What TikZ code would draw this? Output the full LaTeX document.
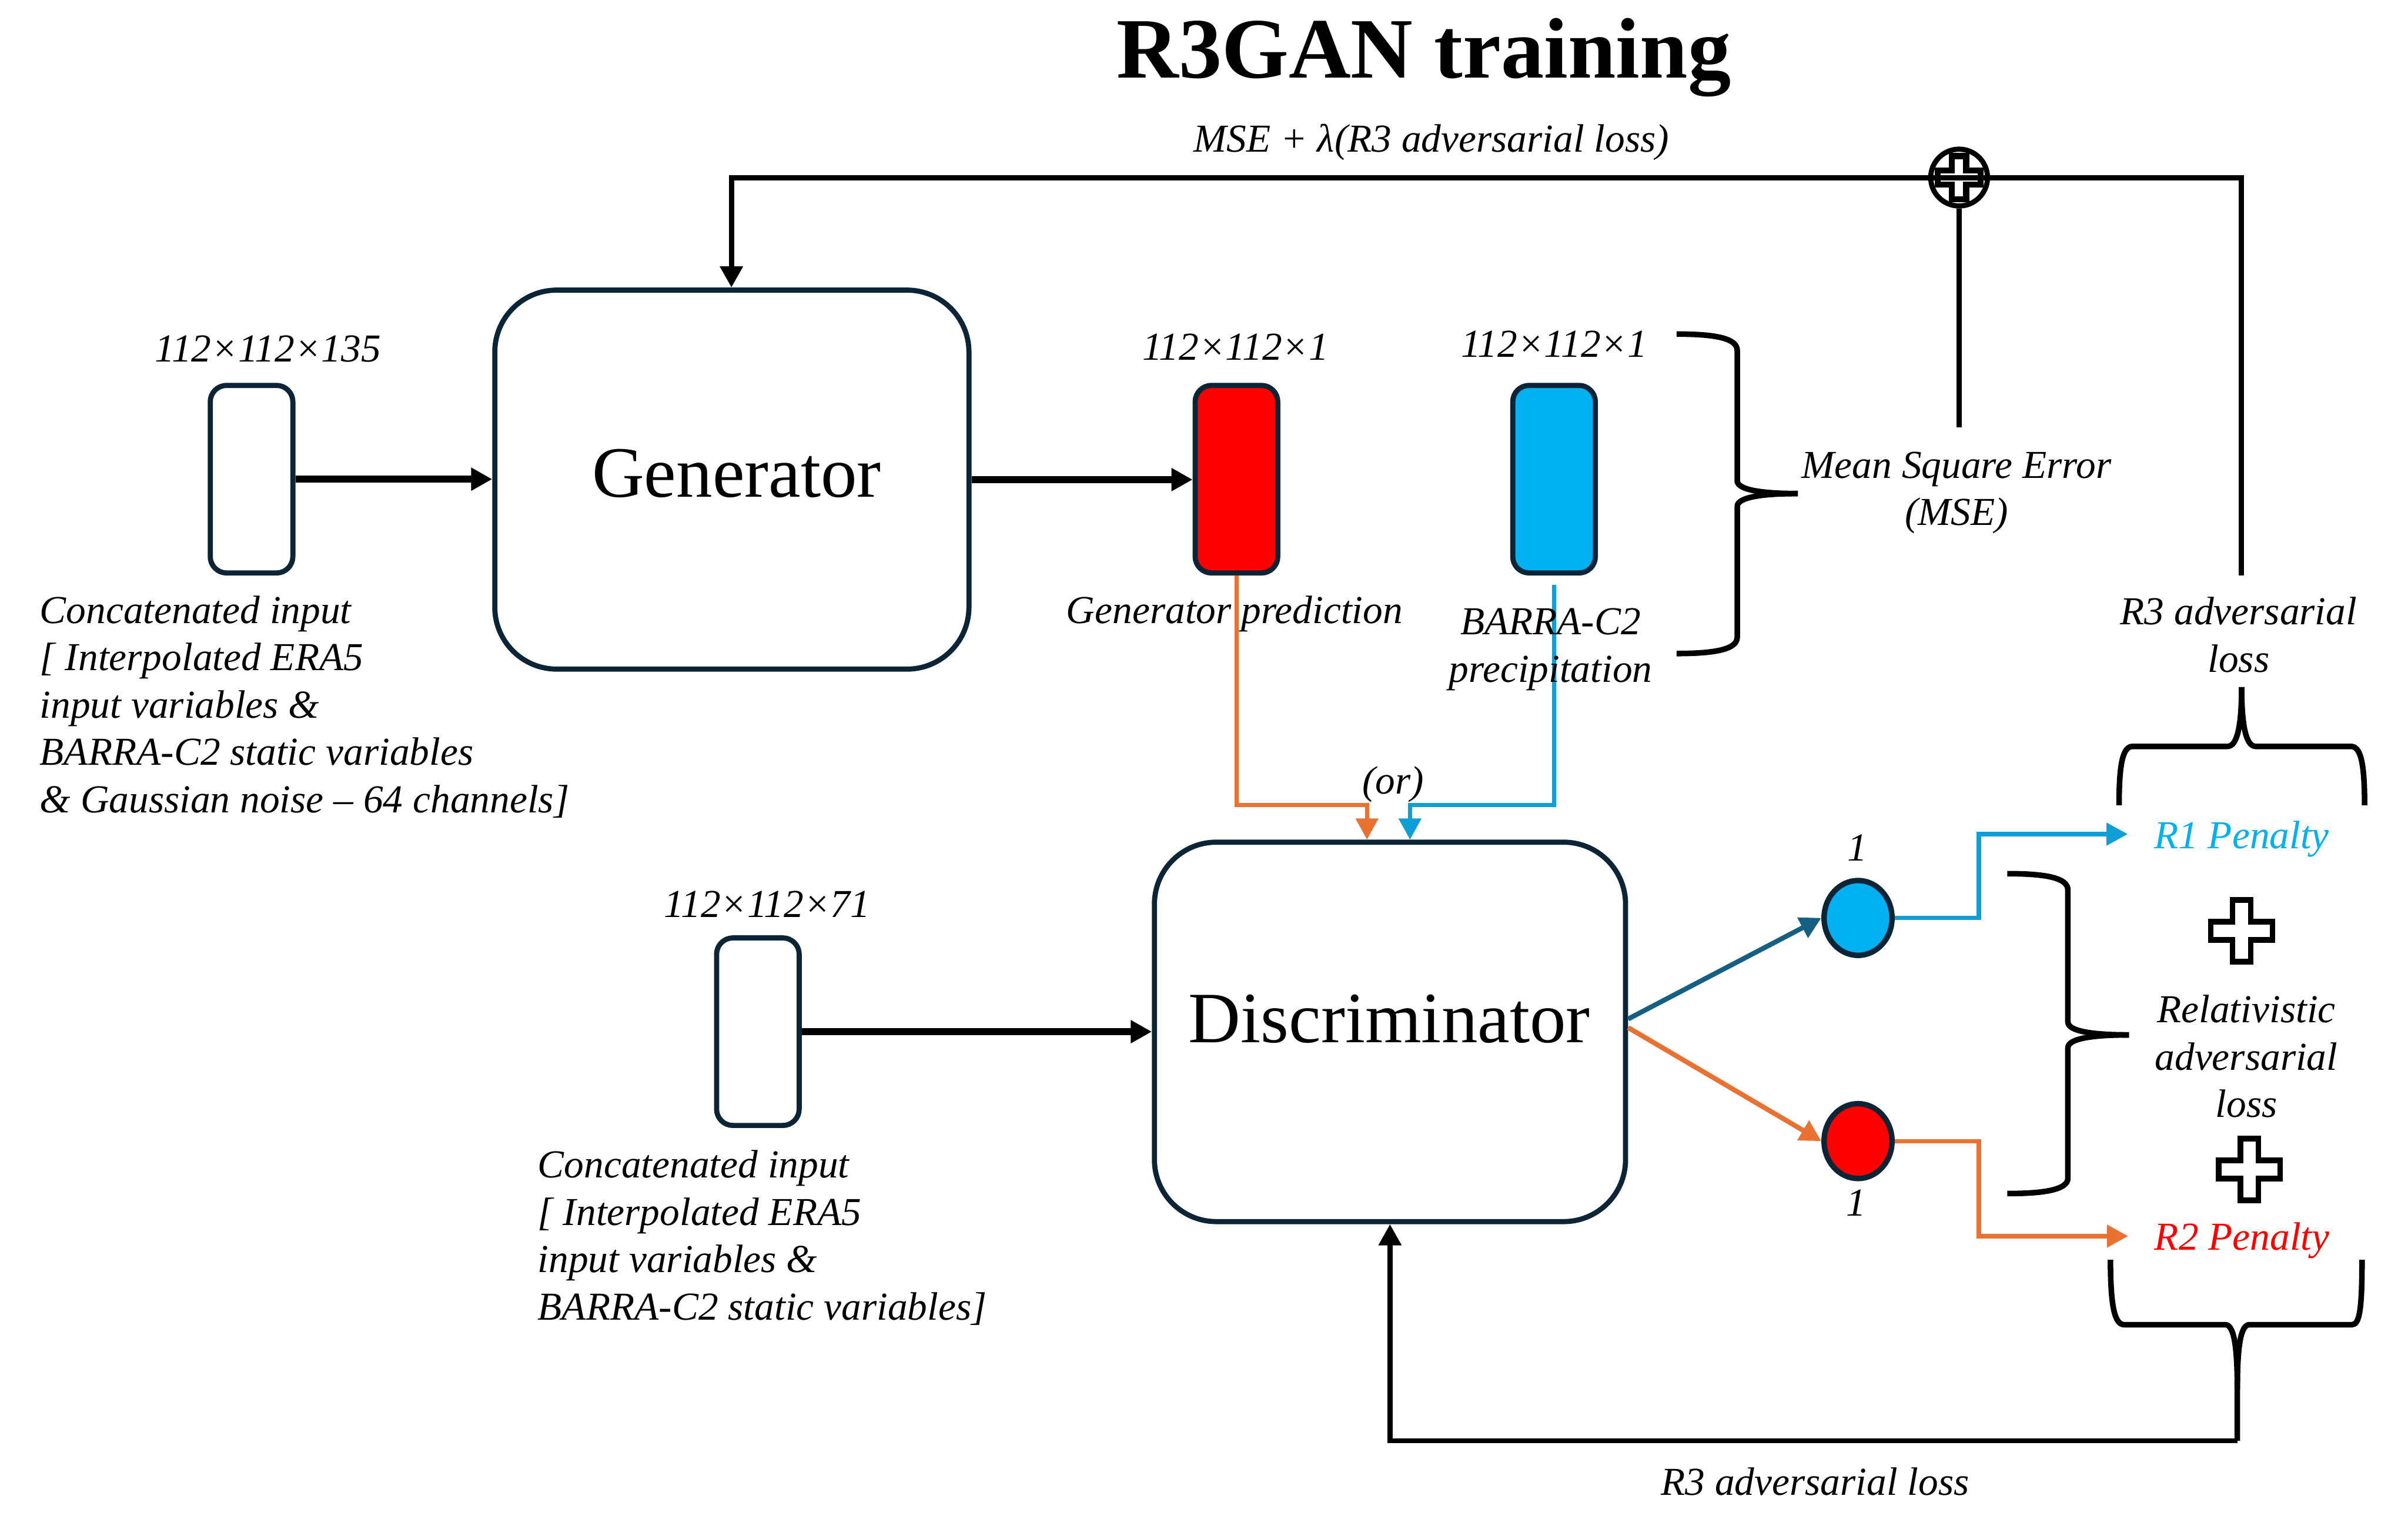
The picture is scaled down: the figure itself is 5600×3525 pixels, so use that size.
\documentclass[tikz,border=0pt]{standalone}
\usepackage{fontspec}
\setmainfont{Liberation Serif}
\usetikzlibrary{arrows.meta,shapes.geometric,calc}
\definecolor{navy}{HTML}{0B2536}
\definecolor{tealC}{HTML}{156082}
\definecolor{orangeC}{HTML}{E97132}
\definecolor{lineblue}{HTML}{0F9ED5}
\definecolor{cyanfill}{HTML}{00B0F0}
\definecolor{predred}{HTML}{FF0000}
\tikzset{
  pics/crossmark/.style n args={2}{code={
    \draw[pic actions] (-#2,-#1) -- (#2,-#1) -- (#2,-#2) -- (#1,-#2) -- (#1,#2) -- (#2,#2) -- (#2,#1) -- (-#2,#1) -- (-#2,#2) -- (-#1,#2) -- (-#1,-#2) -- (-#2,-#2) -- cycle;}}
}
\begin{document}
\begin{tikzpicture}[x=0.01cm,y=-0.01cm,
  txt/.style={font=\fontsize{26.2}{31.3}\selectfont\itshape, inner sep=0pt},
  bigbox/.style={draw=navy, line width=3.4pt, rounded corners=1.44cm, inner sep=0pt},
  inbox/.style={draw=navy, line width=3.4pt, rounded corners=0.38cm, minimum width=1.92cm, minimum height=4.36cm, inner sep=0pt},
  boxlabel/.style={font=\fontsize{47.8}{57}\selectfont, inner sep=0pt, anchor=base},
  bline/.style={line width=3.4pt, black},
  barrow/.style={bline, -{Triangle[length=14pt,width=14.5pt]}},
  darrow/.style={line width=4.6pt, black, -{Triangle[length=14pt,width=14.5pt]}},
  carrow/.style={line width=2.85pt, -{Triangle[length=14pt,width=14.5pt]}},
  brace/.style={line width=3.7pt, line join=round},
  dot/.style={ellipse, draw=navy, line width=3.6pt, minimum width=1.58cm, minimum height=1.74cm, inner sep=0pt}
]
\fill[white] (0,0) rectangle (5600,3525);
\useasboundingbox (0,0) rectangle (5600,3525);

% title
\node[font=\fontsize{56.9}{68}\selectfont\bfseries, anchor=base, inner sep=0pt] (title) at (3311,181) {R3GAN training};
\node[txt, anchor=base] (losslbl) at (3329,353) {MSE + λ(R3 adversarial loss)};

% boxes
\node[bigbox, minimum width=11.02cm, minimum height=8.81cm] (gen) at (1702,1115.5) {};
\node[boxlabel] (genlbl) at (1713,1156) {Generator};
\node[bigbox, minimum width=10.95cm, minimum height=8.82cm] (disc) at (3232.5,2400) {};
\node[boxlabel] (disclbl) at (3231,2425) {Discriminator};

\node[inbox] (inA) at (585,1114.5) {};
\node[inbox, fill=predred] (pred) at (2875.5,1114.5) {};
\node[inbox, fill=cyanfill] (truth) at (3614,1114.5) {};
\node[inbox] (inB) at (1762.5,2399.5) {};

\node[dot, fill=cyanfill] (bc) at (4321,2135) {};
\node[dot, fill=predred] (rc) at (4321,2654) {};

% dimension labels
\node[txt, anchor=base] (dimA) at (623,841) {112×112×135};
\node[txt, anchor=base] (dimP) at (2873,837) {112×112×1};
\node[txt, anchor=base] (dimT) at (3614,831) {112×112×1};
\node[txt, anchor=base] (dimB) at (1784,2133) {112×112×71};
\node[txt, anchor=base] (oneA) at (4320,2002) {1};
\node[txt, anchor=base] (oneB) at (4316,2828) {1};

% connectors
\draw[darrow] (inA.east) -- (inA.east -| gen.west);
\draw[darrow] (gen.east) -- (gen.east -| pred.west);
\draw[darrow] (inB.east) -- (inB.east -| disc.west);

\coordinate (orT) at (3179,1872);
\draw[carrow, color=orangeC] (pred.south) |- (orT) -- (orT |- disc.north);
\coordinate (blS) at (3614,1361);
\coordinate (blT) at (3279,1872);
\draw[carrow, color=lineblue] (blS) |- (blT) -- (blT |- disc.north);

% feedback top
\coordinate (fbR) at (5212,1338);
\coordinate (fbL) at (1701,414);
\draw[barrow] (fbR) |- (fbL) -- (fbL |- gen.north);
\node[circle, draw, line width=3.4pt, minimum size=1.32cm, inner sep=0pt] (cp) at (4556,413) {};
\pic[line width=3.9pt] at (cp.center) {crossmark={50}{16.5}};
\coordinate (mseT) at (4556,994);
\draw[bline] (mseT) -- (cp.south);

% discriminator outputs
\draw[carrow, color=tealC, line width=3.2pt] ([yshift=3mm]disc.east) -- (bc.west);
\draw[carrow, color=orangeC, line width=3.2pt] ([yshift=1mm]disc.east) -- (rc.west);
\coordinate (r1x) at (4602,1940);
\coordinate (r1tip) at (4948,1940);
\draw[carrow, color=lineblue] (bc.east) -| (r1x) -- (r1tip);
\coordinate (r2x) at (4602,2875);
\coordinate (r2tip) at (4949,2875);
\draw[carrow, color=orangeC] (rc.east) -| (r2x) -- (r2tip);

% bottom feedback
\coordinate (bt) at (5203,3351);
\draw[barrow] (bt) -| (disc.south);

% braces
\draw[brace] (3899,777) .. controls (3990,777) and (4040,787) .. (4040,815) -- (4040,1118) .. controls (4040,1140) and (4100,1148) .. (4181,1148);
\draw[brace] (4181,1148) .. controls (4100,1148) and (4040,1156) .. (4040,1178) -- (4040,1482) .. controls (4040,1510) and (3990,1520) .. (3899,1520);

\draw[brace] (4668,2032) .. controls (4759,2032) and (4809,2042) .. (4809,2070) -- (4809,2377) .. controls (4809,2399) and (4869,2407) .. (4951,2407);
\draw[brace] (4951,2407) .. controls (4869,2407) and (4809,2415) .. (4809,2437) -- (4809,2740) .. controls (4809,2766) and (4759,2776) .. (4668,2776);

\draw[brace] (4928,1873) .. controls (4928,1770) and (4938,1736) .. (4960,1736) -- (5180,1736) .. controls (5200,1736) and (5213,1700) .. (5213,1598);
\draw[brace] (5213,1598) .. controls (5213,1700) and (5226,1736) .. (5246,1736) -- (5467,1736) .. controls (5489,1736) and (5499,1770) .. (5499,1873);

\draw[brace] (4908,2930) .. controls (4908,3040) and (4918,3081) .. (4940,3081) -- (5175,3081) .. controls (5195,3081) and (5203,3130) .. (5203,3230) -- (5203,3351);
\draw[brace] (5203,3230) .. controls (5203,3130) and (5211,3081) .. (5231,3081) -- (5470,3081) .. controls (5488,3081) and (5493,3040) .. (5493,2930);

% plus signs
\pic[line width=3.7pt] at (5213,2165) {crossmark={71.5}{21}};
\pic[line width=3.7pt] at (5231,2720) {crossmark={71.5}{21}};

% texts (anchor=base of a multi-line node is the last line's baseline)
\node[txt, anchor=base west, align=left] (descA) at (92,1890) {Concatenated input\\{[} Interpolated ERA5\\input variables \&\\BARRA-C2 static variables\\\& Gaussian noise – 64 channels{]}};
\node[txt, anchor=base west, align=left] (descB) at (1250,3070) {Concatenated input\\{[} Interpolated ERA5\\input variables \&\\BARRA-C2 static variables{]}};
\node[txt, anchor=base] (predlbl) at (2871,1450) {Generator prediction};
\node[txt, anchor=base, align=center] (truthlbl) at (3606,1586) {BARRA-C2\\precipitation};
\node[txt, anchor=base, align=center] (mselbl) at (4550,1222) {Mean Square Error\\(MSE)};
\node[txt, anchor=base, align=center] (r3lbl) at (5206,1563) {R3 adversarial\\loss};
\node[txt, anchor=base] (orlbl) at (3240,1847) {(or)};
\node[txt, anchor=base, text=cyanfill] (r1lbl) at (5213,1973) {R1 Penalty};
\node[txt, anchor=base, text=predred] (r2lbl) at (5214,2907) {R2 Penalty};
\node[txt, anchor=base, align=center] (rellbl) at (5224,2599) {Relativistic\\adversarial\\loss};
\node[txt, anchor=base] (r3bot) at (4221,3477) {R3 adversarial loss};
\end{tikzpicture}
\end{document}
